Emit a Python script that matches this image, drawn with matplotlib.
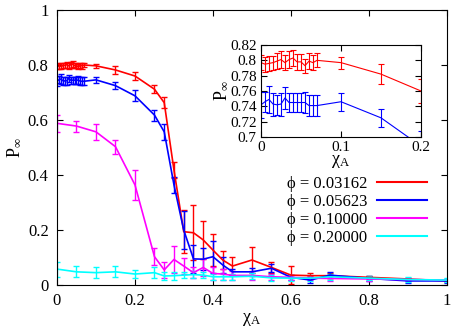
import matplotlib
matplotlib.use("Agg")
import matplotlib.pyplot as plt
from matplotlib.lines import Line2D

plt.rcParams['font.family'] = ['Liberation Serif', 'DejaVu Serif']
plt.rcParams['mathtext.fontset'] = 'custom'
plt.rcParams['mathtext.rm'] = 'Liberation Serif'
plt.rcParams['mathtext.it'] = 'Liberation Serif:italic'
plt.rcParams['font.size'] = 12

# x values for the two lowest phi (fine scan near 0)
x_fine = [0, 0.005, 0.01, 0.015, 0.02, 0.025, 0.03, 0.035, 0.04, 0.045, 0.05,
          0.055, 0.06, 0.065, 0.07, 0.1, 0.15, 0.2, 0.25, 0.275, 0.3, 0.325,
          0.35, 0.375, 0.4, 0.425, 0.45, 0.5, 0.55, 0.6, 0.65, 0.7, 0.8, 0.9, 1.0]
x_coarse = [0, 0.05, 0.1, 0.15, 0.2, 0.25, 0.275, 0.3, 0.325, 0.35, 0.375,
            0.4, 0.425, 0.45, 0.5, 0.55, 0.6, 0.65, 0.7, 0.8, 0.9, 1.0]

p_red = [0.797, 0.795, 0.796, 0.797, 0.799, 0.801, 0.797, 0.801, 0.803, 0.798,
         0.798, 0.793, 0.799, 0.797, 0.800, 0.797, 0.782, 0.760, 0.712, 0.663,
         0.418, 0.194, 0.190, 0.164, 0.127, 0.091, 0.069, 0.091, 0.064, 0.036,
         0.034, 0.034, 0.028, 0.022, 0.015]
e_red = [0.010, 0.010, 0.010, 0.009, 0.010, 0.011, 0.010, 0.011, 0.011, 0.010,
         0.010, 0.009, 0.010, 0.010, 0.009, 0.008, 0.013, 0.016, 0.015, 0.020,
         0.030, 0.077, 0.100, 0.070, 0.058, 0.033, 0.034, 0.046, 0.020, 0.033,
         0.010, 0.008, 0.006, 0.005, 0.005]

p_blue = [0.742, 0.746, 0.749, 0.743, 0.742, 0.743, 0.751, 0.745, 0.745, 0.745,
          0.745, 0.745, 0.741, 0.741, 0.741, 0.746, 0.725, 0.688, 0.618, 0.557,
          0.364, 0.200, 0.095, 0.094, 0.103, 0.073, 0.048, 0.048, 0.061, 0.028,
          0.018, 0.036, 0.024, 0.015, 0.015]
e_blue = [0.017, 0.013, 0.018, 0.015, 0.013, 0.015, 0.014, 0.013, 0.013, 0.013,
          0.013, 0.014, 0.014, 0.014, 0.014, 0.012, 0.012, 0.020, 0.020, 0.030,
          0.030, 0.070, 0.050, 0.040, 0.058, 0.030, 0.010, 0.015, 0.015, 0.010,
          0.010, 0.010, 0.008, 0.006, 0.006]

p_mag = [0.588, 0.578, 0.557, 0.503, 0.364, 0.103, 0.055, 0.093, 0.069, 0.045,
         0.064, 0.042, 0.040, 0.035, 0.035, 0.030, 0.028, 0.025, 0.024, 0.022,
         0.020, 0.018]
e_mag = [0.030, 0.020, 0.030, 0.025, 0.055, 0.030, 0.030, 0.048, 0.030, 0.020,
         0.030, 0.025, 0.020, 0.015, 0.015, 0.010, 0.010, 0.008, 0.008, 0.006,
         0.005, 0.005]

p_cyan = [0.058, 0.048, 0.045, 0.048, 0.040, 0.045, 0.033, 0.034, 0.036, 0.038,
          0.036, 0.030, 0.030, 0.030, 0.032, 0.026, 0.025, 0.025, 0.030, 0.025,
          0.020, 0.018]
e_cyan = [0.027, 0.020, 0.020, 0.020, 0.015, 0.020, 0.015, 0.015, 0.012, 0.012,
          0.012, 0.010, 0.010, 0.010, 0.010, 0.010, 0.010, 0.010, 0.010, 0.008,
          0.008, 0.008]

labels = ["ϕ = 0.03162", "ϕ = 0.05623", "ϕ = 0.10000", "ϕ = 0.20000"]
colors = ["#ff0000", "#0000ff", "#ff00ff", "#00ffff"]

fig = plt.figure(figsize=(4.69, 3.28), dpi=100)
ax = fig.add_axes([0.1215, 0.131, 0.8315, 0.8385])

series = [(x_fine, p_red, e_red), (x_fine, p_blue, e_blue),
          (x_coarse, p_mag, e_mag), (x_coarse, p_cyan, e_cyan)]
for (xs, ys, es), c in zip(series, colors):
    ax.errorbar(xs, ys, yerr=es, color=c, lw=1.2, elinewidth=1.0,
                capsize=2, capthick=1.0)

ax.set_xlim(0, 1)
ax.set_ylim(0, 1)
ax.set_xticks([0, 0.2, 0.4, 0.6, 0.8, 1])
ax.set_yticks([0, 0.2, 0.4, 0.6, 0.8, 1])
ax.set_xticklabels(["0", "0.2", "0.4", "0.6", "0.8", "1"])
ax.set_yticklabels(["0", "0.2", "0.4", "0.6", "0.8", "1"])
ax.tick_params(direction='in', top=True, right=True, length=4, width=0.8,
               labelsize=12, pad=6)
ax.set_xlabel("χ$_\\mathrm{A}$", fontsize=13, labelpad=1)
ax.set_ylabel("P$_\\infty$", fontsize=13, labelpad=3)

handles = [Line2D([], [], color=c, lw=1.5) for c in colors]
ax.legend(handles, labels, loc='upper right', bbox_to_anchor=(0.98, 0.44),
          frameon=False, markerfirst=False, handlelength=3.0,
          labelspacing=0.12, fontsize=12, handletextpad=0.6, borderpad=0.2)

# inset
ins = fig.add_axes([0.5565, 0.5823, 0.3412, 0.2805])
for (xs, ys, es), c in zip(series[:2], colors[:2]):
    ins.errorbar(xs, ys, yerr=es, color=c, lw=0.8, elinewidth=0.8,
                 capsize=2, capthick=0.8)
ins.set_xlim(0, 0.2)
ins.set_ylim(0.7, 0.82)
ins.set_xticks([0, 0.1, 0.2])
ins.set_xticklabels(["0", "0.1", "0.2"])
ins.set_yticks([0.7, 0.72, 0.74, 0.76, 0.78, 0.8, 0.82])
ins.set_yticklabels(["0.7", "0.72", "0.74", "0.76", "0.78", "0.8", "0.82"])
ins.tick_params(direction='in', top=True, right=True, length=4, width=0.8,
                labelsize=11, pad=3)
ins.set_xlabel("χ$_\\mathrm{A}$", fontsize=13, labelpad=-1)
ins.set_ylabel("P$_\\infty$", fontsize=13, labelpad=0)

fig.savefig("out.png", dpi=100)
